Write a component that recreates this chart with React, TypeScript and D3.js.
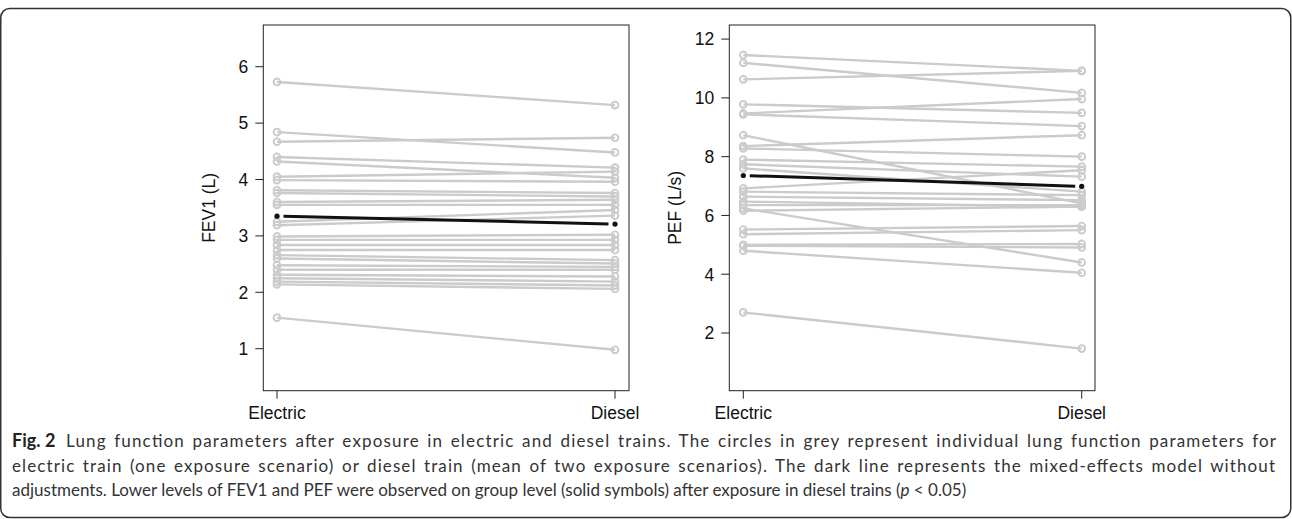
import React from "react";
import * as d3 from "d3";

const categories = ["Electric", "Diesel"];

const fevElectric = [5.73, 4.84, 4.67, 4.40, 4.32, 4.05, 3.99, 3.81, 3.76, 3.60, 3.55, 3.25, 3.19, 2.99, 2.93, 2.84, 2.75, 2.66, 2.60, 2.48, 2.40, 2.31, 2.25, 2.19, 2.14, 1.55];
const fevDiesel = [5.32, 4.48, 4.74, 4.21, 4.03, 4.14, 3.96, 3.76, 3.70, 3.64, 3.55, 3.46, 3.36, 3.02, 2.93, 2.84, 2.75, 2.57, 2.51, 2.45, 2.40, 2.28, 2.19, 2.12, 2.06, 0.98];
const fevMean = [3.35, 3.21];
const fevTicks = [1, 2, 3, 4, 5, 6];

const pefElectric = [11.46, 11.19, 10.63, 9.78, 9.47, 9.44, 8.73, 8.36, 8.28, 7.90, 7.74, 7.60, 6.92, 6.81, 6.64, 6.47, 6.35, 6.24, 6.16, 5.52, 5.36, 5.00, 4.97, 4.80, 2.70];
const pefDiesel = [10.92, 10.17, 10.92, 9.49, 9.96, 9.04, 6.41, 8.73, 8.00, 7.66, 7.32, 6.81, 7.54, 6.69, 6.52, 6.30, 6.35, 4.40, 6.30, 5.64, 5.50, 5.03, 4.91, 4.05, 1.47];
const pefMean = [7.36, 6.99];
const pefTicks = [2, 4, 6, 8, 10, 12];

const captionLabel = "Fig. 2";
const captionLines = [
  "Lung function parameters after exposure in electric and diesel trains. The circles in grey represent individual lung function parameters for",
  "electric train (one exposure scenario) or diesel train (mean of two exposure scenarios). The dark line represents the mixed-effects model without",
  "adjustments. Lower levels of FEV1 and PEF were observed on group level (solid symbols) after exposure in diesel trains (",
];

const AXIS_FONT = "'Liberation Sans', Arial, Helvetica, sans-serif";
const CAP_FONT = "Lato, 'Open Sans', sans-serif";
const GREY = "#cbcbcb";
const AXIS = "#222";

type PanelProps = {
  left: number;
  right: number;
  xE: number;
  xD: number;
  yDomain: [number, number];
  ticks: number[];
  electric: number[];
  diesel: number[];
  mean: number[];
  label: string;
  labelX: number;
};

const TOP = 25;
const BOTTOM = 390.7;

function Panel(p: PanelProps) {
  const x = d3.scalePoint<string>().domain(categories).range([p.xE, p.xD]);
  const y = d3.scaleLinear().domain(p.yDomain).range([BOTTOM, TOP]);
  const line = d3.line<[number, number]>().x((d) => d[0]).y((d) => d[1]);
  const pairs = p.electric.map((e, i) => [e, p.diesel[i]]);
  const mx0 = x("Electric")!;
  const mx1 = x("Diesel")!;
  const my0 = y(p.mean[0]);
  const my1 = y(p.mean[1]);
  const dx = mx1 - mx0;
  const dy = my1 - my0;
  const len = Math.sqrt(dx * dx + dy * dy);
  const gap = 6.5;
  const ux = dx / len;
  const uy = dy / len;
  const midY = (TOP + BOTTOM) / 2;
  return (
    <g>
      {pairs.map((pr, i) => (
        <path
          key={"l" + i}
          d={line([
            [mx0, y(pr[0])],
            [mx1, y(pr[1])],
          ])!}
          fill="none"
          stroke={GREY}
          strokeWidth={2.4}
        />
      ))}
      {pairs.map((pr, i) => (
        <g key={"c" + i}>
          <circle cx={mx0} cy={y(pr[0])} r={3.4} fill="none" stroke={GREY} strokeWidth={1.9} />
          <circle cx={mx1} cy={y(pr[1])} r={3.4} fill="none" stroke={GREY} strokeWidth={1.9} />
        </g>
      ))}
      <path
        d={line([
          [mx0 + ux * gap, my0 + uy * gap],
          [mx1 - ux * gap, my1 - uy * gap],
        ])!}
        stroke="#111"
        strokeWidth={3}
        fill="none"
      />
      <circle cx={mx0} cy={my0} r={2.6} fill="#111" />
      <circle cx={mx1} cy={my1} r={2.6} fill="#111" />
      <rect x={p.left} y={TOP} width={p.right - p.left} height={BOTTOM - TOP} fill="none" stroke={AXIS} strokeWidth={1} />
      {p.ticks.map((t) => (
        <g key={"t" + t}>
          <line x1={p.left - 8} x2={p.left} y1={y(t)} y2={y(t)} stroke={AXIS} strokeWidth={1} />
          <text
            x={p.left - 15}
            y={y(t)}
            dy="0.36em"
            textAnchor="end"
            fontFamily={AXIS_FONT}
            fontSize={17.5}
            fill="#111"
          >
            {t}
          </text>
        </g>
      ))}
      {categories.map((c) => (
        <g key={c}>
          <line x1={x(c)!} x2={x(c)!} y1={BOTTOM} y2={BOTTOM + 8} stroke={AXIS} strokeWidth={1} />
          <text x={x(c)!} y={419} textAnchor="middle" fontFamily={AXIS_FONT} fontSize={17.5} fill="#111">
            {c}
          </text>
        </g>
      ))}
      <text
        transform={`translate(${p.labelX},${midY}) rotate(-90)`}
        textAnchor="middle"
        fontFamily={AXIS_FONT}
        fontSize={17.5}
        fill="#111"
      >
        {p.label}
      </text>
    </g>
  );
}

export default function App() {
  return (
    <svg
      width={1292}
      height={519}
      style={{ position: "absolute", left: 0, top: 0, background: "#fff" }}
    >
      <rect x={0.75} y={8.5} width={1290} height={509} rx={9} fill="none" stroke="#333" strokeWidth={1.5} />
      <Panel
        left={263.3}
        right={629}
        xE={277}
        xD={615}
        yDomain={[0.255, 6.74]}
        ticks={fevTicks}
        electric={fevElectric}
        diesel={fevDiesel}
        mean={fevMean}
        label="FEV1 (L)"
        labelX={215}
      />
      <Panel
        left={729.3}
        right={1095}
        xE={743.3}
        xD={1081.7}
        yDomain={[0.037, 12.48]}
        ticks={pefTicks}
        electric={pefElectric}
        diesel={pefDiesel}
        mean={pefMean}
        label="PEF (L/s)"
        labelX={681}
      />
      <g fontFamily={CAP_FONT} fontSize={17} fill="#333">
        <text x={12} y={447} fontWeight="bold" fontSize={18} fill="#222">
          {captionLabel}
        </text>
        <text x={66} y={447} textLength={1210} lengthAdjust="spacing" style={{ wordSpacing: "2px" }}>
          {captionLines[0]}
        </text>
        <text x={12} y={471.5} textLength={1263} lengthAdjust="spacing" style={{ wordSpacing: "2px" }}>
          {captionLines[1]}
        </text>
        <text x={12} y={496}>
          {captionLines[2]}
          <tspan fontStyle="italic">p</tspan>
          {" < 0.05)"}
        </text>
      </g>
    </svg>
  );
}
